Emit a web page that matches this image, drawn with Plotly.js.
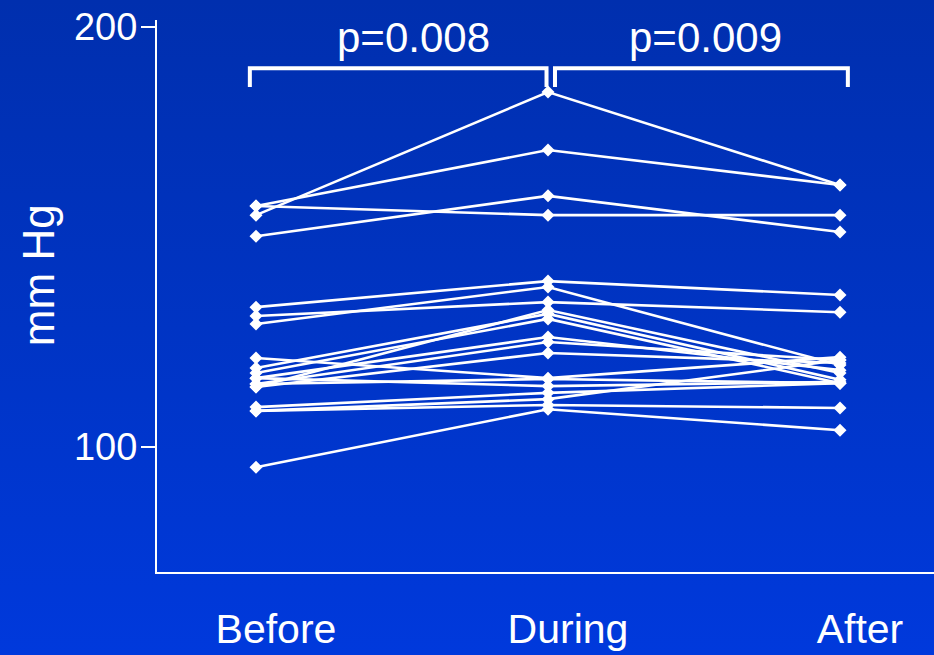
<!DOCTYPE html>
<html>
<head>
<meta charset="utf-8">
<script src="https://cdn.plot.ly/plotly-3.0.1.min.js"></script>
<style>
  html, body { margin: 0; padding: 0; width: 934px; height: 655px; overflow: hidden;
    background: linear-gradient(to bottom, #002fae 0%, #0034c4 50%, #0039dc 100%); }
  #chart { width: 934px; height: 655px; }
</style>
</head>
<body>
<div id="chart"></div>
<script>
// Categories (time points)
const categories = ["Before", "During", "After"];
// Systolic values (mm Hg) per subject
const before = [155.2, 157.4, 157.4, 150.2, 133.3, 131.2, 129.3, 121.2, 118.8, 117.6, 116.4, 115.0, 114.3, 114.3, 109.5, 108.6, 108.6, 95.2, 115.0, 116.4];
const during = [184.5, 170.7, 155.2, 159.8, 139.5, 134.5, 138.1, 116.4, 131.7, 130.5, 126.2, 125.0, 122.4, 132.6, 112.9, 111.4, 110.0, 109.0, 116.2, 114.5];
const after  = [162.4, 162.4, 155.2, 151.2, 136.2, 132.1, 119.5, 121.4, 116.0, 115.2, 118.3, 120.7, 120.0, 117.6, 115.2, 120.7, 109.3, 104.0, 115.2, 115.5];
// Significance labels
const pLabels = ["p=0.008", "p=0.009"];
const yTicks = [100, 200];
const yTitle = "mm Hg";

const xIdx = categories.map((c, i) => i);
const traces = before.map((b, i) => ({
  x: xIdx,
  y: [b, during[i], after[i]],
  type: "scatter",
  mode: "lines+markers",
  line: { color: "#ffffff", width: 2.6 },
  marker: { symbol: "diamond", size: 10, color: "#ffffff" },
  hoverinfo: "skip",
  showlegend: false
}));

const font = "Liberation Sans, Arial, sans-serif";
const bracketTop = 190.2, bracketEnd = 185.7;
const layout = {
  width: 934, height: 655,
  paper_bgcolor: "rgba(0,0,0,0)",
  plot_bgcolor: "rgba(0,0,0,0)",
  margin: { l: 157, r: 0, t: 20, b: 83 },
  showlegend: false,
  xaxis: {
    range: [-0.339, 2.322],
    tickvals: xIdx, ticktext: categories,
    showgrid: false, zeroline: false,
    showline: true, linecolor: "#ffffff", linewidth: 2,
    ticks: "", ticklabelstandoff: 20, ticklabelshift: 20,
    tickfont: { family: font, size: 41, color: "#ffffff" }
  },
  yaxis: {
    range: [70.24, 201.67],
    tickvals: yTicks,
    showgrid: false, zeroline: false,
    showline: true, linecolor: "#ffffff", linewidth: 2,
    ticks: "outside", ticklen: 14, tickwidth: 2, tickcolor: "#ffffff",
    ticklabelstandoff: -4,
    tickfont: { family: font, size: 38, color: "#ffffff" }
  },
  shapes: [
    { type: "path", xref: "x", yref: "y",
      path: `M -0.021 ${bracketEnd} L -0.021 ${bracketTop} L 0.995 ${bracketTop} L 0.995 ${bracketEnd}`,
      line: { color: "#ffffff", width: 4 } },
    { type: "path", xref: "x", yref: "y",
      path: `M 1.024 ${bracketEnd} L 1.024 ${bracketTop} L 2.027 ${bracketTop} L 2.027 ${bracketEnd}`,
      line: { color: "#ffffff", width: 4 } }
  ],
  annotations: [
    { x: 0.54, y: 197.4, xref: "x", yref: "y", text: pLabels[0], showarrow: false,
      font: { family: font, size: 42, color: "#ffffff" } },
    { x: 1.54, y: 197.4, xref: "x", yref: "y", text: pLabels[1], showarrow: false,
      font: { family: font, size: 42, color: "#ffffff" } },
    { x: -0.153, y: 0.538, xref: "paper", yref: "paper", text: yTitle, showarrow: false,
      textangle: -90, xanchor: "center", yanchor: "middle",
      font: { family: font, size: 44, color: "#ffffff" } }
  ]
};

Plotly.newPlot("chart", traces, layout, { staticPlot: true, displayModeBar: false });
</script>
</body>
</html>
